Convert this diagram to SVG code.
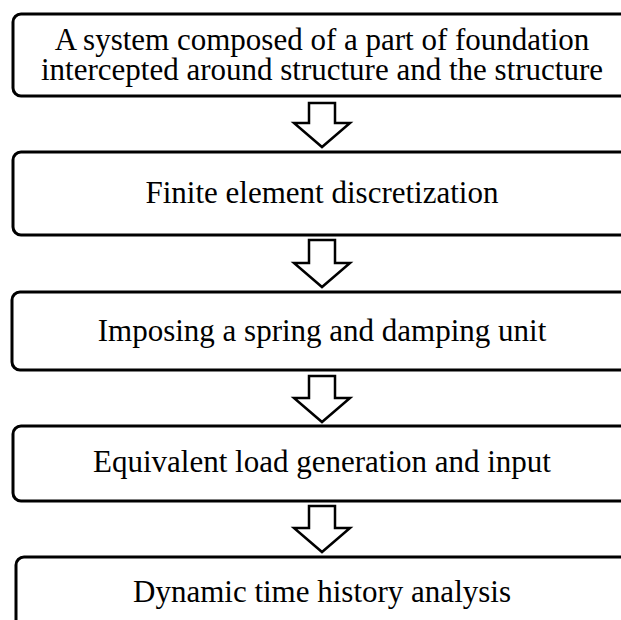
<svg xmlns="http://www.w3.org/2000/svg" width="621" height="620" viewBox="0 0 621 620">
<style>
.box{fill:#fff;stroke:#000;stroke-width:3}
.lbl{font-family:"Liberation Serif","Times New Roman",serif;font-size:31px;fill:#000;text-anchor:middle}
.arr{fill:#fff;stroke:#000;stroke-width:2.5;stroke-linejoin:miter}
</style>
<rect width="621" height="620" fill="#fff"/>
<g id="connectors">
<path class="arr" d="M309,103 H335 V123 H350 L322,147 L294,123 H309 Z"/>
<path class="arr" d="M309,240 H335 V263 H350 L322,287 L294,263 H309 Z"/>
<path class="arr" d="M309,376 H335 V398 H350 L322,422 L294,398 H309 Z"/>
<path class="arr" d="M309,506 H335 V528 H350 L322,552 L294,528 H309 Z"/>
</g>
<g id="n1">
<rect class="box" x="13" y="14" width="640" height="82" rx="8"/>
<text class="lbl" x="322" y="50">A system composed of a part of foundation</text>
<text class="lbl" x="322" y="80">intercepted around structure and the structure</text>
</g>
<g id="n2">
<rect class="box" x="13" y="152" width="640" height="83" rx="8"/>
<text class="lbl" x="322" y="203">Finite element discretization</text>
</g>
<g id="n3">
<rect class="box" x="12" y="292" width="640" height="78" rx="8"/>
<text class="lbl" x="322" y="341">Imposing a spring and damping unit</text>
</g>
<g id="n4">
<rect class="box" x="13" y="426" width="640" height="75" rx="8"/>
<text class="lbl" x="322" y="472">Equivalent load generation and input</text>
</g>
<g id="n5">
<rect class="box" x="16" y="557" width="640" height="100" rx="8"/>
<text class="lbl" x="322" y="602">Dynamic time history analysis</text>
</g>
</svg>
